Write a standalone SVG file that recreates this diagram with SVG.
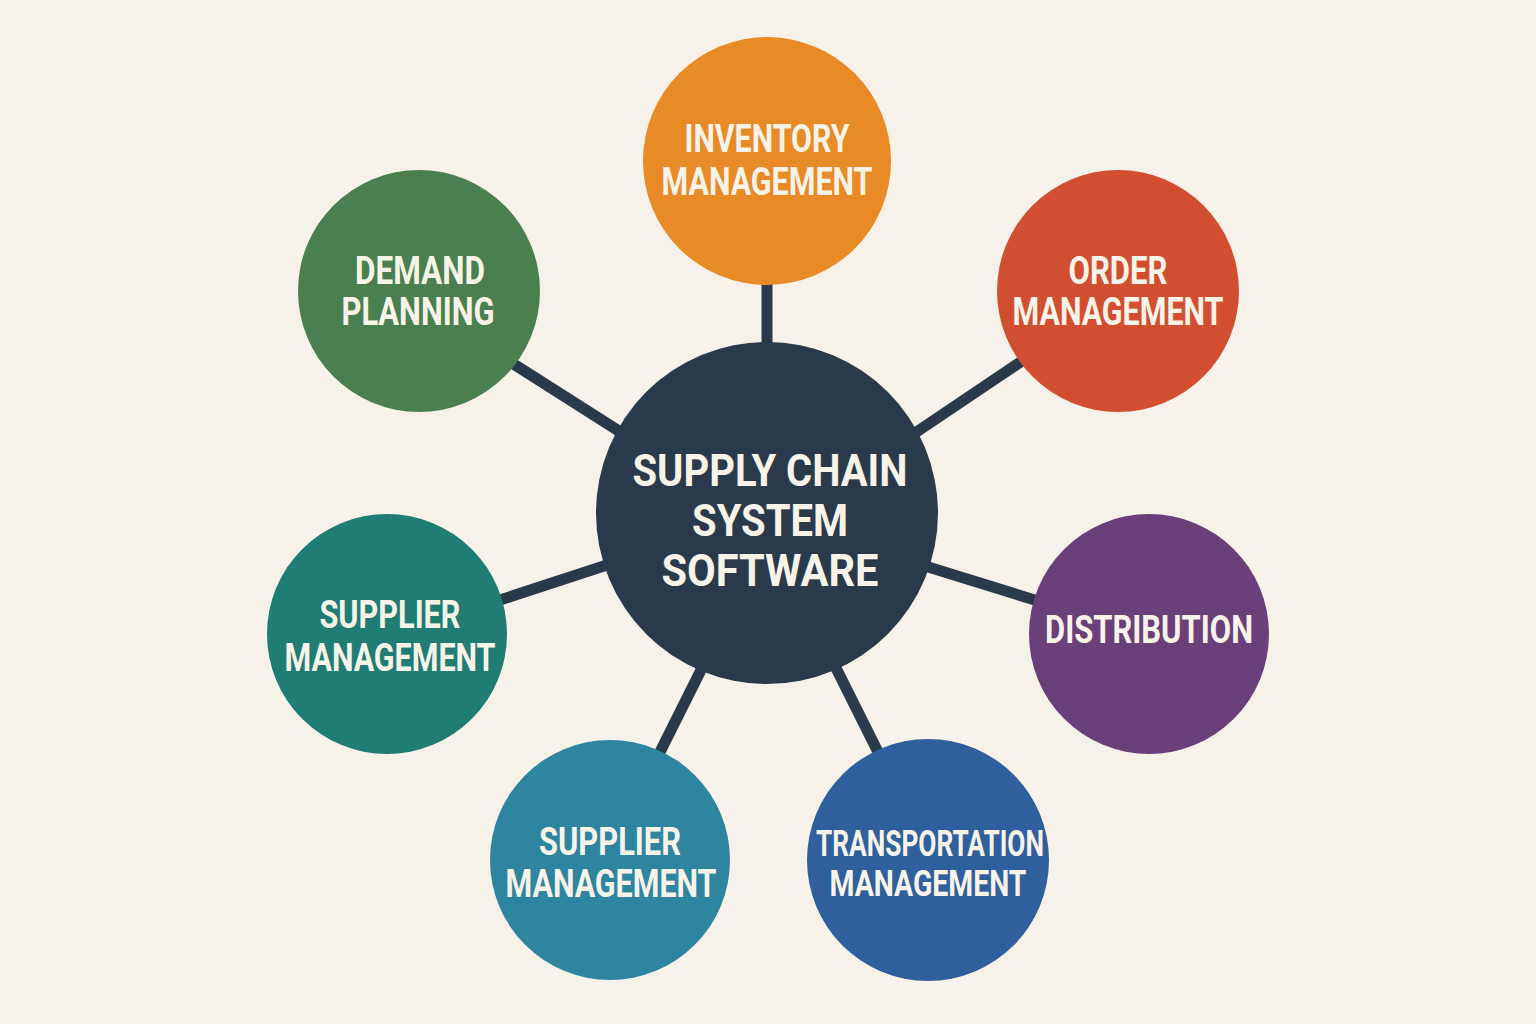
<svg xmlns="http://www.w3.org/2000/svg" width="1536" height="1024" viewBox="0 0 1536 1024">
<style>
.lbl{font-family:Roboto,"Liberation Sans",sans-serif;font-weight:700;fill:#f8f3e8;text-anchor:middle;font-size:38px}
.ctr{font-size:44px}
.con line{stroke:#2b3a4a;stroke-width:11;stroke-linecap:butt}
</style>
<rect width="1536" height="1024" fill="#f7f2e9"/>
<g class="con" id="connectors">
<line x1="767" y1="280" x2="767" y2="350"/>
<line x1="915" y1="433" x2="1025" y2="359"/>
<line x1="512" y1="363" x2="622" y2="433"/>
<line x1="500" y1="600" x2="610" y2="564"/>
<line x1="925" y1="566" x2="1038" y2="601"/>
<line x1="660" y1="752" x2="702" y2="668"/>
<line x1="836" y1="668" x2="878" y2="752"/>
</g>
<g id="center">
<circle cx="767" cy="513" r="171" fill="#2b3a4a"/>
<text class="lbl ctr" x="770" y="486" textLength="275" lengthAdjust="spacingAndGlyphs">SUPPLY CHAIN</text>
<text class="lbl ctr" x="770" y="536" textLength="156" lengthAdjust="spacingAndGlyphs">SYSTEM</text>
<text class="lbl ctr" x="770" y="586" textLength="217" lengthAdjust="spacingAndGlyphs">SOFTWARE</text>
</g>
<g id="inventory">
<circle cx="767" cy="161" r="124" fill="#e88a25"/>
<text class="lbl" x="767" y="152" textLength="165" lengthAdjust="spacingAndGlyphs">INVENTORY</text>
<text class="lbl" x="767" y="195" textLength="211" lengthAdjust="spacingAndGlyphs">MANAGEMENT</text>
</g>
<g id="order">
<circle cx="1118" cy="291" r="121" fill="#d14f30"/>
<text class="lbl" x="1118" y="284" textLength="99" lengthAdjust="spacingAndGlyphs">ORDER</text>
<text class="lbl" x="1118" y="325" textLength="211" lengthAdjust="spacingAndGlyphs">MANAGEMENT</text>
</g>
<g id="demand">
<circle cx="419" cy="291" r="121" fill="#4a7f4f"/>
<text class="lbl" x="420" y="284" textLength="130" lengthAdjust="spacingAndGlyphs">DEMAND</text>
<text class="lbl" x="418" y="325" textLength="153" lengthAdjust="spacingAndGlyphs">PLANNING</text>
</g>
<g id="supplier-left">
<circle cx="387" cy="634" r="120" fill="#1f7d74"/>
<text class="lbl" x="390" y="628" textLength="141" lengthAdjust="spacingAndGlyphs">SUPPLIER</text>
<text class="lbl" x="390" y="671" textLength="211" lengthAdjust="spacingAndGlyphs">MANAGEMENT</text>
</g>
<g id="distribution">
<circle cx="1149" cy="634" r="120" fill="#6a3f7a"/>
<text class="lbl" x="1149" y="643" textLength="208" lengthAdjust="spacingAndGlyphs">DISTRIBUTION</text>
</g>
<g id="supplier-bottom">
<circle cx="610" cy="860" r="120" fill="#2e85a0"/>
<text class="lbl" x="610" y="855" textLength="142" lengthAdjust="spacingAndGlyphs">SUPPLIER</text>
<text class="lbl" x="611" y="897" textLength="211" lengthAdjust="spacingAndGlyphs">MANAGEMENT</text>
</g>
<g id="transportation">
<circle cx="928" cy="860" r="121" fill="#2f5f9c"/>
<text class="lbl" x="930" y="856" textLength="228" lengthAdjust="spacingAndGlyphs" style="font-size:36px">TRANSPORTATION</text>
<text class="lbl" x="928" y="896" textLength="197" lengthAdjust="spacingAndGlyphs" style="font-size:36px">MANAGEMENT</text>
</g>
</svg>
